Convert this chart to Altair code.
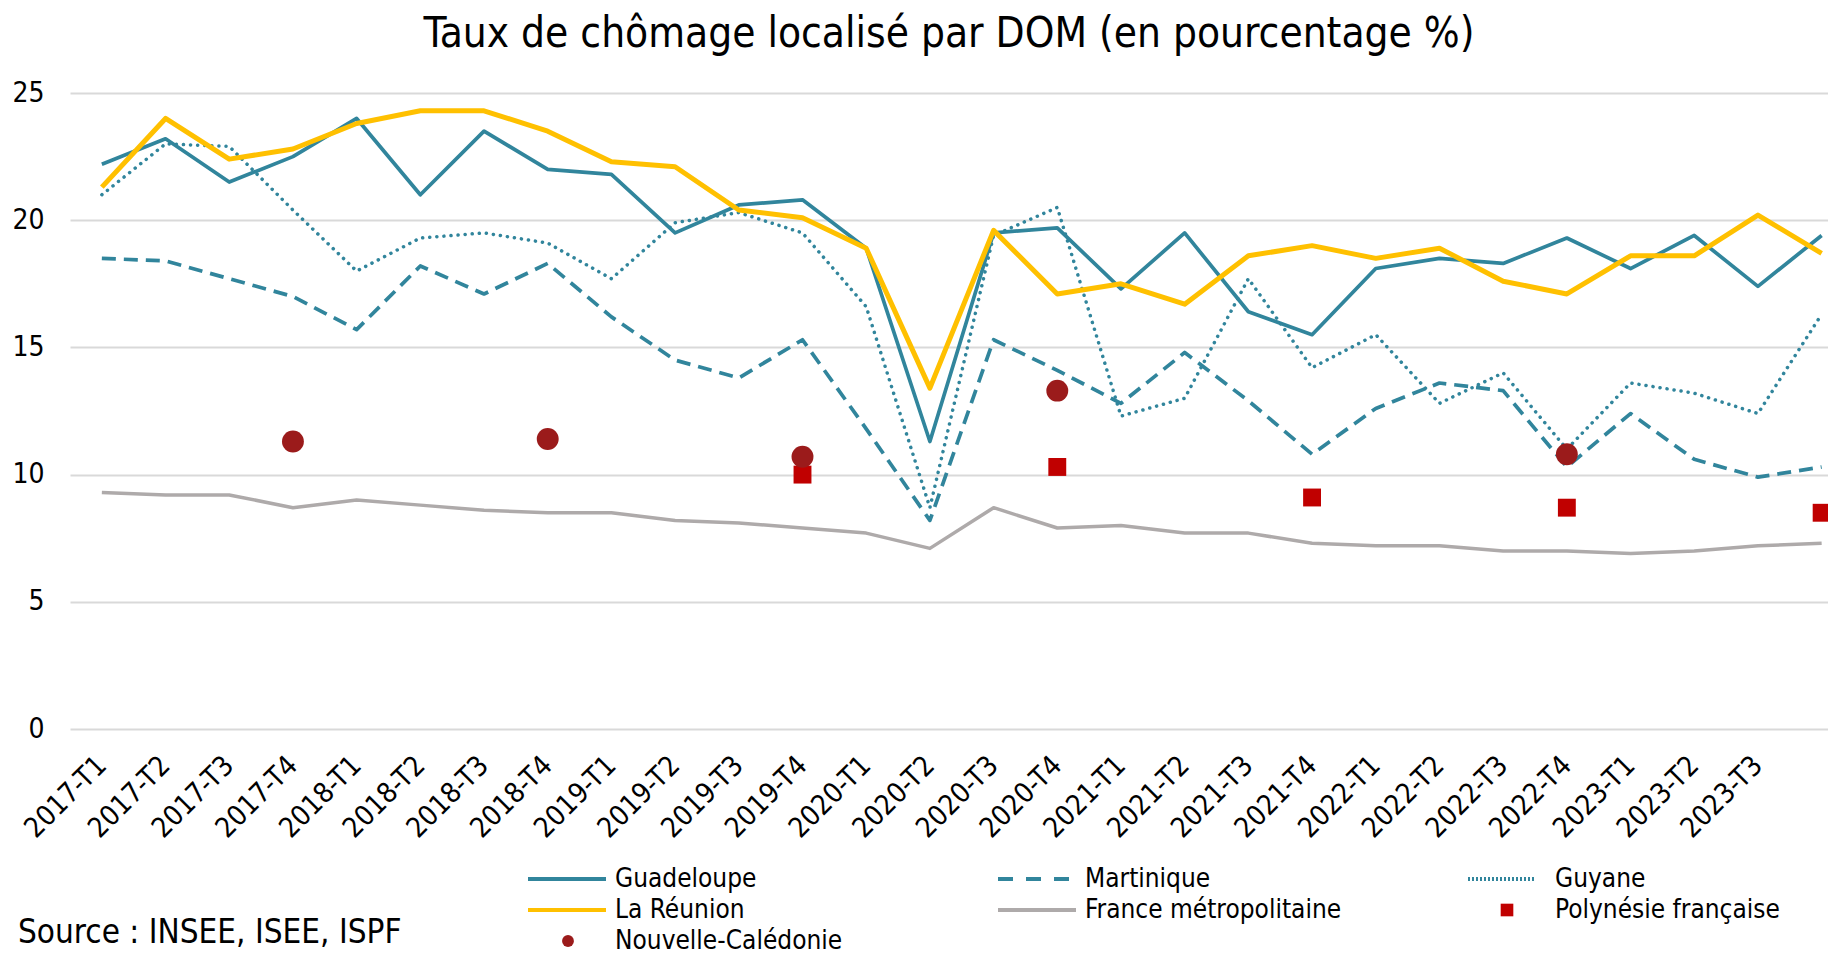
import json
import altair as alt
import pandas as pd

trimestres = ["2017-T1", "2017-T2", "2017-T3", "2017-T4",
              "2018-T1", "2018-T2", "2018-T3", "2018-T4",
              "2019-T1", "2019-T2", "2019-T3", "2019-T4",
              "2020-T1", "2020-T2", "2020-T3", "2020-T4",
              "2021-T1", "2021-T2", "2021-T3", "2021-T4",
              "2022-T1", "2022-T2", "2022-T3", "2022-T4",
              "2023-T1", "2023-T2", "2023-T3", "2023-T4"]

guadeloupe = [22.2, 23.2, 21.5, 22.5, 24.0, 21.0, 23.5, 22.0, 21.8, 19.5, 20.6, 20.8, 18.9, 11.3,
              19.5, 19.7, 17.3, 19.5, 16.4, 15.5, 18.1, 18.5, 18.3, 19.3, 18.1, 19.4, 17.4, 19.4]
martinique = [18.5, 18.4, 17.7, 17.0, 15.7, 18.2, 17.1, 18.3, 16.2, 14.5, 13.8, 15.3, 11.8, 8.2,
              15.3, 14.1, 12.8, 14.8, 12.9, 10.8, 12.6, 13.6, 13.3, 10.3, 12.4, 10.6, 9.9, 10.3]
guyane = [21.0, 23.0, 22.9, 20.4, 18.0, 19.3, 19.5, 19.1, 17.7, 19.9, 20.3, 19.5, 16.6, 8.7,
          19.4, 20.5, 12.3, 13.0, 17.7, 14.2, 15.5, 12.8, 14.0, 11.0, 13.6, 13.2, 12.4, 16.3]
la_reunion = [21.3, 24.0, 22.4, 22.8, 23.8, 24.3, 24.3, 23.5, 22.3, 22.1, 20.4, 20.1, 18.9, 13.4,
              19.6, 17.1, 17.5, 16.7, 18.6, 19.0, 18.5, 18.9, 17.6, 17.1, 18.6, 18.6, 20.2, 18.7]
france_metro = [9.3, 9.2, 9.2, 8.7, 9.0, 8.8, 8.6, 8.5, 8.5, 8.2, 8.1, 7.9, 7.7, 7.1,
                8.7, 7.9, 8.0, 7.7, 7.7, 7.3, 7.2, 7.2, 7.0, 7.0, 6.9, 7.0, 7.2, 7.3]
nc_trim = ["2017-T4", "2018-T4", "2019-T4", "2020-T4", "2022-T4"]
nc_vals = [11.3, 11.4, 10.7, 13.3, 10.8]
pf_trim = ["2019-T4", "2020-T4", "2021-T4", "2022-T4", "2023-T4"]
pf_vals = [10.0, 10.3, 9.1, 8.7, 8.5]

y_ticks = [0, 5, 10, 15, 20, 25]
title = "Taux de chômage localisé par DOM (en pourcentage %)"
source = "Source : INSEE, ISEE, ISPF"

FONT = "DejaVu Sans Condensed, DejaVu Sans"
TEAL = "#31859C"
YELLOW = "#FFC000"
GREY = "#AEAAAA"
PF_RED = "#C00000"
NC_RED = "#9B1B1B"
GRID = "#D9D9D9"

label_js = json.dumps(trimestres)
x_enc = alt.X("idx:Q", scale=alt.Scale(domain=[-0.5, len(trimestres) - 0.9], nice=False, zero=False),
              axis=alt.Axis(title=None, values=list(range(len(trimestres) - 1)),
                            labelExpr=f"{label_js}[datum.value]",
                            labelAngle=-45, labelAlign="right", labelBaseline="middle",
                            labelOverlap=False, labelFlush=False,
                            labelFont=FONT, labelFontSize=28, labelColor="#000000",
                            labelPadding=32, ticks=False, domain=False, grid=False))
y_enc = alt.Y("taux:Q", scale=alt.Scale(domain=[0, 25], nice=False),
              axis=alt.Axis(title=None, values=y_ticks, labelFont=FONT,
                            labelFontSize=28, labelColor="#000000", labelPadding=26,
                            ticks=False, domain=False, gridColor=GRID, gridWidth=2))


def series_df(trims, vals):
    return pd.DataFrame({"idx": [trimestres.index(t) for t in trims], "taux": vals})


def line_layer(vals, color, width, dash=None, cap="butt"):
    kw = dict(color=color, strokeWidth=width, strokeCap=cap, strokeJoin="round")
    if dash:
        kw["strokeDash"] = dash
    return alt.Chart(series_df(trimestres, vals)).mark_line(**kw).encode(x=x_enc, y=y_enc)


layers = [
    line_layer(france_metro, GREY, 3.5),
    line_layer(guyane, TEAL, 3.5, [0.1, 7], cap="round"),
    line_layer(martinique, TEAL, 3.7, [14, 8]),
    line_layer(guadeloupe, TEAL, 3.7),
    line_layer(la_reunion, YELLOW, 5),
    alt.Chart(series_df(pf_trim, pf_vals)).mark_square(size=320, color=PF_RED, opacity=1)
    .encode(x=x_enc, y=y_enc),
    alt.Chart(series_df(nc_trim, nc_vals)).mark_circle(size=480, color=NC_RED, opacity=1)
    .encode(x=x_enc, y=y_enc),
]

# ---- legend (guide glyphs below the plot) ----
one = pd.DataFrame({"k": [0]})
sym_x = [458, 928, 1398]
txt_x = [545, 1015, 1485]
row_y = [786, 817, 848]


def leg_line(col, row, color, dash=None, cap="butt"):
    kw = dict(color=color, strokeWidth=4, strokeCap=cap)
    if dash:
        kw["strokeDash"] = dash
    return alt.Chart(one).mark_rule(**kw).encode(
        x=alt.value(sym_x[col]), x2=alt.value(sym_x[col] + (78 if col < 2 else 68)),
        y=alt.value(row_y[row]))


def leg_text(col, row, label):
    return alt.Chart(one).mark_text(align="left", baseline="middle", font=FONT, fontSize=26,
                                    color="#000000").encode(
        x=alt.value(txt_x[col]), y=alt.value(row_y[row]), text=alt.value(label))


legend_layers = [
    leg_line(0, 0, TEAL), leg_text(0, 0, "Guadeloupe"),
    leg_line(1, 0, TEAL, [15, 13]), leg_text(1, 0, "Martinique"),
    leg_line(2, 0, TEAL, [2, 2]), leg_text(2, 0, "Guyane"),
    leg_line(0, 1, YELLOW), leg_text(0, 1, "La Réunion"),
    leg_line(1, 1, GREY), leg_text(1, 1, "France métropolitaine"),
    alt.Chart(one).mark_square(size=160, color=PF_RED, opacity=1).encode(
        x=alt.value(1437), y=alt.value(row_y[1])),
    leg_text(2, 1, "Polynésie française"),
    alt.Chart(one).mark_circle(size=140, color=NC_RED, opacity=1).encode(
        x=alt.value(498), y=alt.value(row_y[2])),
    leg_text(0, 2, "Nouvelle-Calédonie"),
    alt.Chart(one).mark_text(align="left", baseline="middle", font=FONT, fontSize=33,
                             color="#000000").encode(
        x=alt.value(-52), y=alt.value(840), text=alt.value(source)),
]

chart = alt.layer(*layers, *legend_layers).properties(
    width=1758, height=636,
    title=alt.Title(title, font=FONT, fontSize=42, fontWeight="normal", color="#000000",
                    anchor="middle", offset=23),
    autosize=alt.AutoSizeParams(type="none"),
    padding={"left": 62, "top": 85, "right": 0, "bottom": 225},
).configure_view(stroke=None)

chart.save("out.html", embed_options={"renderer": "svg", "actions": False})
